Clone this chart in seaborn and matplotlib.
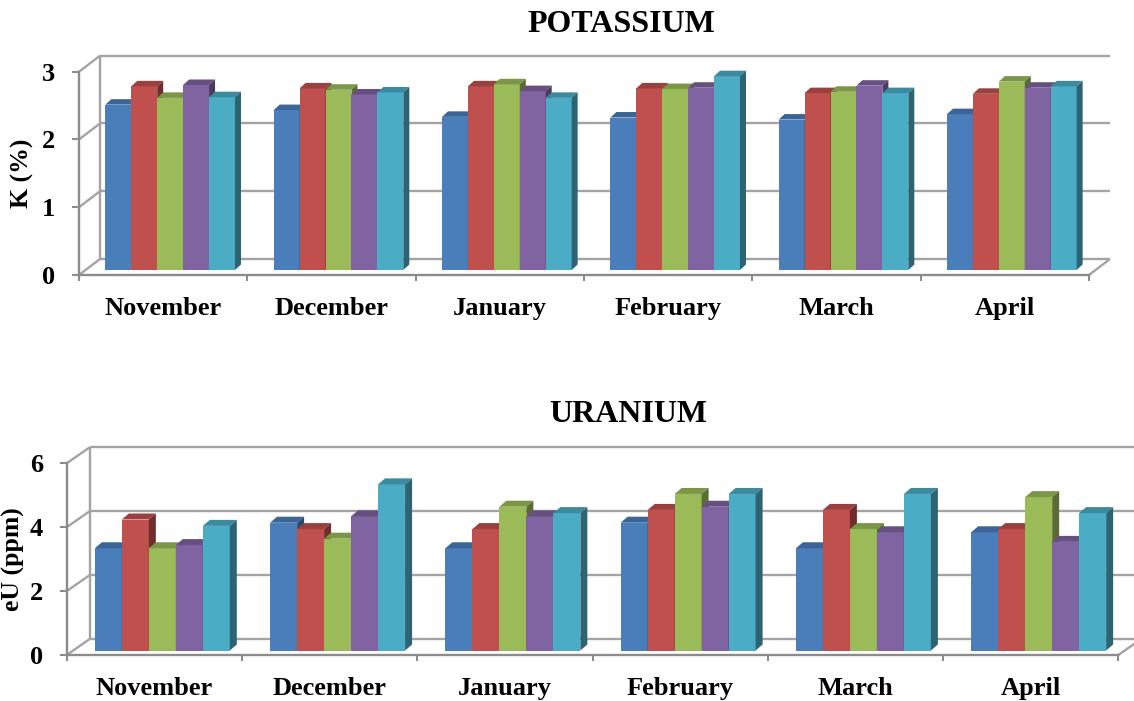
import numpy as np
import pandas as pd
import matplotlib
matplotlib.use("Agg")
import matplotlib.pyplot as plt
import seaborn as sns
from matplotlib.patches import Polygon
from matplotlib.transforms import offset_copy

# ---- data -------------------------------------------------------------
months = ["November", "December", "January", "February", "March", "April"]
series = ["Series1", "Series2", "Series3", "Series4", "Series5"]
colors = ["#4A7EBB", "#C0504D", "#9BBB59", "#8064A2", "#4BACC6"]

# potassium, K (%)
k1 = [2.44, 2.36, 2.26, 2.25, 2.22, 2.30]
k2 = [2.71, 2.68, 2.71, 2.68, 2.61, 2.60]
k3 = [2.54, 2.66, 2.74, 2.67, 2.63, 2.78]
k4 = [2.73, 2.59, 2.64, 2.69, 2.72, 2.69]
k5 = [2.55, 2.62, 2.54, 2.86, 2.61, 2.71]

# uranium, eU (ppm)
u1 = [3.2, 4.0, 3.2, 4.0, 3.2, 3.7]
u2 = [4.1, 3.8, 3.8, 4.4, 4.4, 3.8]
u3 = [3.2, 3.5, 4.5, 4.9, 3.8, 4.8]
u4 = [3.3, 4.2, 4.2, 4.5, 3.7, 3.4]
u5 = [3.9, 5.2, 4.3, 4.9, 4.9, 4.3]

k_ticks = [0, 1, 2, 3]
u_ticks = [0, 2, 4, 6]

# ---- styling ----------------------------------------------------------
plt.rcParams["font.family"] = ["Liberation Serif", "DejaVu Serif"]
plt.rcParams["font.weight"] = "bold"

W, H, DPI = 1134, 701, 100
GRID = "#a3a3a3"
AXIS = "#8c8c8c"


def shade(c, f):
    r, g, b = matplotlib.colors.to_rgb(c)
    return (r * f, g * f, b * f)


def long_frame(values):
    rows = [(m, s, v) for s, vals in zip(series, values) for m, v in zip(months, vals)]
    return pd.DataFrame(rows, columns=["month", "series", "value"])


panels = [
    dict(title="POTASSIUM", ylabel="K (%)", values=[k1, k2, k3, k4, k5],
         ticks=k_ticks, box=(79, 1089, 275, 71.7), wall=(21, 16),
         shift=(7, 5), depth=(6, 5.5), title_xy=(621.5, 25), ylab_x=22),
    dict(title="URANIUM", ylabel="eU (ppm)", values=[u1, u2, u3, u4, u5],
         ticks=u_ticks, box=(66.7, 1118.3, 655, 463.3), wall=(23, 16),
         shift=(8, 4.5), depth=(7, 6), title_xy=(628, 414), ylab_x=13),
]

fig = plt.figure(figsize=(W / DPI, H / DPI), dpi=DPI)

for p in panels:
    x0, x1, yb, yt = p["box"]
    ymax = p["ticks"][-1]
    ax = fig.add_axes([x0 / W, 1 - yb / H, (x1 - x0) / W, (yb - yt) / H])
    ax.set_facecolor("none")

    sns.barplot(data=long_frame(p["values"]), x="month", y="value", hue="series",
                order=months, hue_order=series, palette=colors, width=0.77,
                saturation=1, linewidth=0, errorbar=None, legend=False, ax=ax)

    ax.set_xlim(-0.5, 5.5)
    ax.set_ylim(0, ymax)

    # pixels per data unit
    sx = (x1 - x0) / 6.0
    sy = (yb - yt) / ymax

    # back wall, left wall and floor edges
    wx, wy = p["wall"][0] / sx, p["wall"][1] / sy
    gkw = dict(color=GRID, lw=1.7, clip_on=False, zorder=1, solid_capstyle="butt")
    for t in p["ticks"]:
        ax.plot([-0.5, -0.5 + wx], [t, t + wy], **gkw)
        ax.plot([-0.5 + wx, 5.5 + wx], [t + wy, t + wy], **gkw)
    ax.plot([-0.5 + wx] * 2, [wy, ymax + wy], **gkw)
    ax.plot([5.5, 5.5 + wx], [0, wy], **gkw)

    # columns with top and side faces
    shift_tr = offset_copy(ax.transData, x=p["shift"][0], y=p["shift"][1], units="dots")
    ddx, ddy = p["depth"][0] / sx, p["depth"][1] / sy
    bars = sorted(ax.patches, key=lambda b: b.get_x())
    for i, bar in enumerate(bars):
        x, w, h = bar.get_x(), bar.get_width(), bar.get_height()
        fc = bar.get_facecolor()
        bar.set_transform(shift_tr)
        bar.set_clip_on(False)
        bar.set_zorder(10 + 3 * i)
        top = Polygon([(x, h), (x + w, h), (x + w + ddx, h + ddy), (x + ddx, h + ddy)],
                      closed=True, transform=shift_tr, facecolor=shade(fc, 0.8),
                      edgecolor="none", clip_on=False, zorder=11 + 3 * i)
        side = Polygon([(x + w, 0), (x + w + ddx, ddy), (x + w + ddx, h + ddy), (x + w, h)],
                       closed=True, transform=shift_tr, facecolor=shade(fc, 0.58),
                       edgecolor="none", clip_on=False, zorder=11 + 3 * i)
        ax.add_patch(top)
        ax.add_patch(side)

    # front axes
    for s in ["top", "right"]:
        ax.spines[s].set_visible(False)
    for s in ["left", "bottom"]:
        ax.spines[s].set_color(AXIS)
        ax.spines[s].set_linewidth(1.7)
        ax.spines[s].set_zorder(2)
    ax.set_yticks(p["ticks"])
    ax.tick_params(axis="y", direction="out", length=5, width=1.5, color=AXIS,
                   labelsize=19, pad=12)
    ax.set_xticks(range(6))
    ax.set_xticklabels(months)
    ax.set_xticks(np.arange(-0.5, 6.0, 1.0), minor=True)
    ax.tick_params(axis="x", which="major", length=0, labelsize=19, pad=16)
    ax.tick_params(axis="x", which="minor", direction="out", length=4.5, width=1.5,
                   color=AXIS)
    for lbl in ax.get_xticklabels() + ax.get_yticklabels():
        lbl.set_fontweight("bold")

    ax.set_xlabel("")
    ax.set_ylabel(p["ylabel"], fontsize=18.5, fontweight="bold", va="center")
    ax.yaxis.set_label_coords((p["ylab_x"] - x0) / (x1 - x0), 0.5)

    tx, ty = p["title_xy"]
    fig.text(tx / W, 1 - ty / H, p["title"], ha="center", va="center",
             fontsize=23, fontweight="bold")

fig.savefig("out.png", dpi=DPI)
